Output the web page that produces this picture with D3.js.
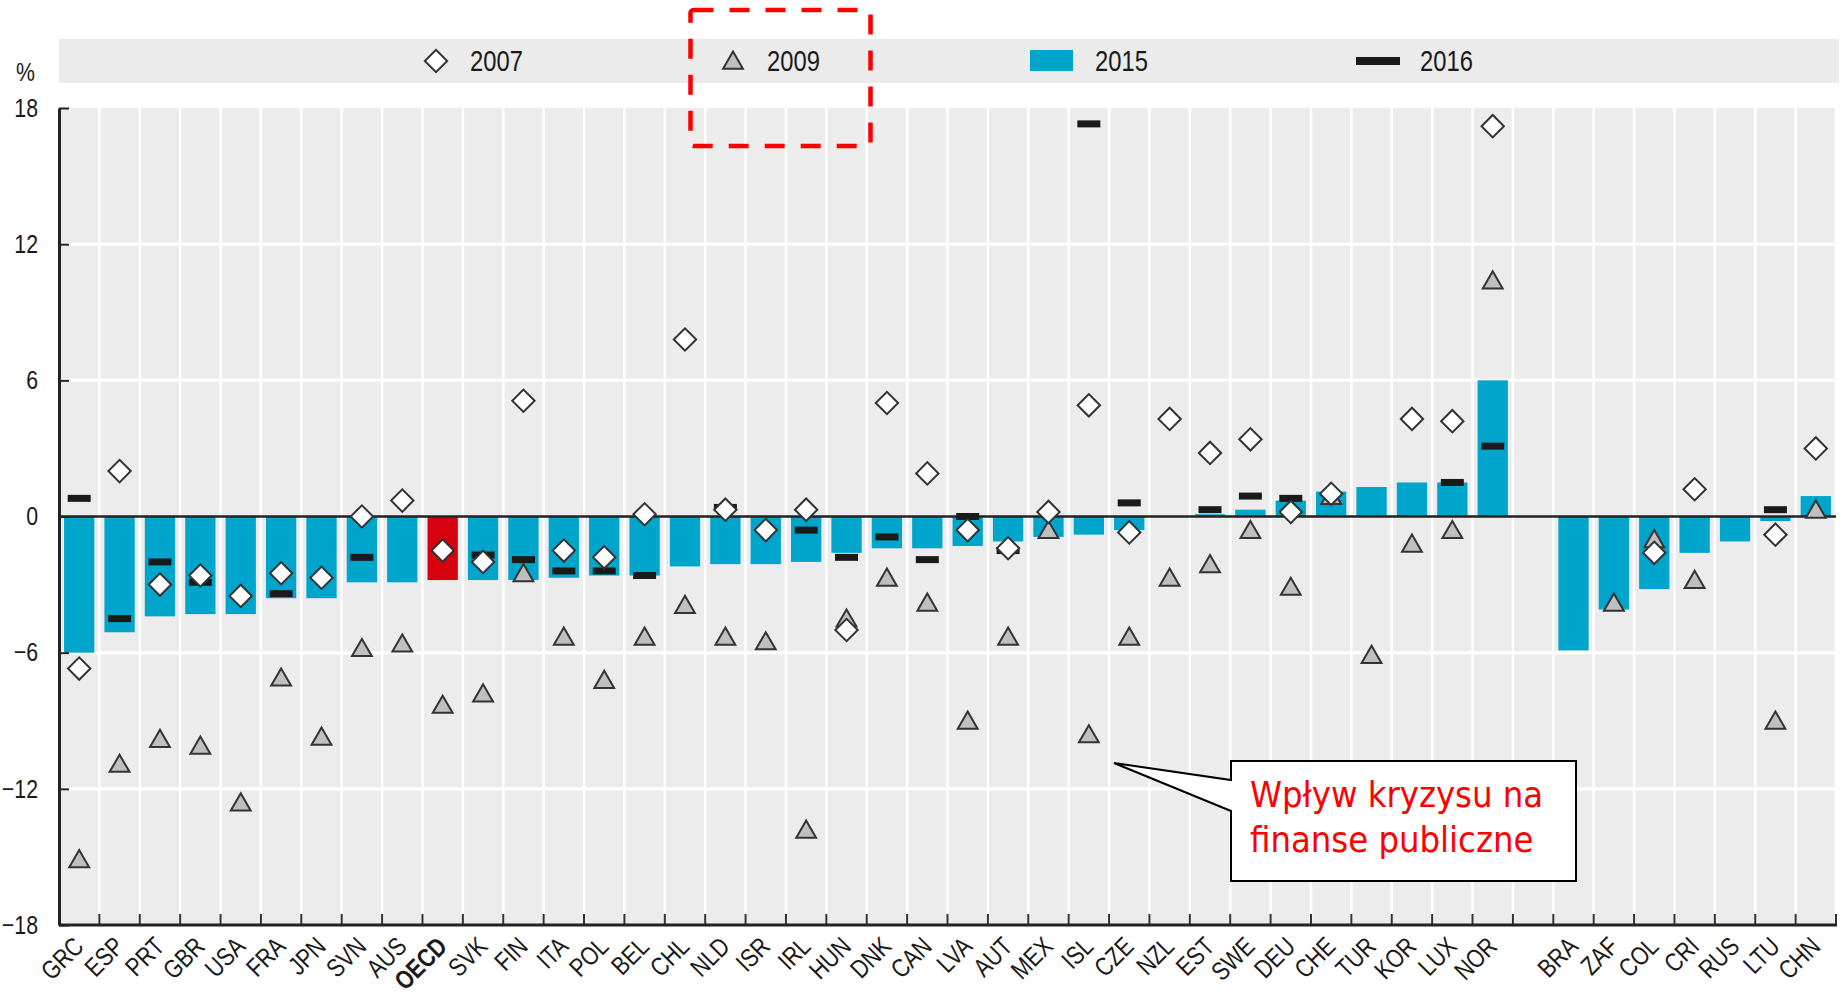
<!DOCTYPE html>
<html>
<head>
<meta charset="utf-8">
<script src="https://cdn.jsdelivr.net/npm/d3@7"></script>
<style>
  body { margin: 0; background: #fff; }
  svg text { font-family: 'Liberation Sans', Arial, sans-serif; fill: #1a1a1a; }
</style>
</head>
<body>
<div id="chart"></div>
<script>
// categories ("" = empty slot between OECD and partner countries)
var countries = ["GRC","ESP","PRT","GBR","USA","FRA","JPN","SVN","AUS","OECD","SVK","FIN","ITA","POL","BEL","CHL","NLD","ISR","IRL","HUN","DNK","CAN","LVA","AUT","MEX","ISL","CZE","NZL","EST","SWE","DEU","CHE","TUR","KOR","LUX","NOR","","BRA","ZAF","COL","CRI","RUS","LTU","CHN"];

// general government balance, % of GDP
var bal2015 = [-6.0,-5.1,-4.4,-4.3,-4.3,-3.6,-3.6,-2.9,-2.9,-2.8,-2.8,-2.8,-2.7,-2.6,-2.6,-2.2,-2.1,-2.1,-2.0,-1.6,-1.4,-1.4,-1.3,-1.1,-0.9,-0.8,-0.6,0.0,0.1,0.3,0.7,1.1,1.3,1.5,1.5,6.0,null,-5.9,-4.1,-3.2,-1.6,-1.1,-0.2,0.9];
var bal2007 = [-6.7,2.0,-3.0,-2.6,-3.5,-2.5,-2.7,0.0,0.7,-1.5,-2.0,5.1,-1.5,-1.8,0.1,7.8,0.3,-0.6,0.3,-5.0,5.0,1.9,-0.6,-1.4,0.2,4.9,-0.7,4.3,2.8,3.4,0.2,1.0,null,4.3,4.2,17.2,null,null,null,-1.6,1.2,null,-0.8,3.0];
var bal2009 = [-15.2,-11.0,-9.9,-10.2,-12.7,-7.2,-9.8,-5.9,-5.7,-8.4,-7.9,-2.6,-5.4,-7.3,-5.4,-4.0,-5.4,-5.6,-13.9,-4.6,-2.8,-3.9,-9.1,-5.4,-0.7,-9.7,-5.4,-2.8,-2.2,-0.7,-3.2,0.8,-6.2,-1.3,-0.7,10.3,null,null,-3.9,-1.1,-2.9,null,-9.1,0.2];
var bal2016 = [0.8,-4.5,-2.0,-2.9,null,-3.4,null,-1.8,null,null,-1.7,-1.9,-2.4,-2.4,-2.6,null,0.4,null,-0.6,-1.8,-0.9,-1.9,0.0,-1.5,null,17.3,0.6,null,0.3,0.9,0.8,null,null,null,1.5,3.1,null,null,null,null,null,null,0.3,null];

var yTicks = [18, 12, 6, 0, -6, -12, -18];
var legendLabels = ["2007", "2009", "2015", "2016"];
var calloutLines = ["Wpływ kryzysu na", "finanse publiczne"];

var W = 1847, H = 994;
var margin = { top: 108, right: 11, bottom: 69, left: 59 };
var plotW = W - margin.left - margin.right,
    plotH = H - margin.top - margin.bottom;

var blue = "#00a5cb", red = "#d7000f", bg = "#ececec";
var NARROW = 0.82; // squeeze Liberation Sans to an Arial Narrow look

// squeeze text horizontally, keeping its anchor point
function narrow(sel, k) {
  sel.each(function() {
    var t = d3.select(this);
    var x0 = +t.attr("x") || 0;
    var tr = t.attr("transform") || "";
    t.attr("x", x0 / k).attr("transform", (tr + " scale(" + k + ",1)").trim());
  });
}

var svg = d3.select("#chart").append("svg")
  .attr("width", W)
  .attr("height", H);

// SCALES
var x = d3.scaleBand()
  .domain(countries)
  .range([margin.left, margin.left + plotW])
  .paddingInner(0.25)
  .paddingOuter(0.125);
var step = x.step();

var y = d3.scaleLinear()
  .domain([-18, 18])
  .range([margin.top + plotH, margin.top]);

// legend band
svg.append("rect")
  .attr("x", margin.left).attr("y", 39)
  .attr("width", 1780).attr("height", 44)
  .attr("fill", "#ebebeb");

// plot background
svg.append("rect")
  .attr("x", margin.left).attr("y", margin.top)
  .attr("width", plotW).attr("height", plotH)
  .attr("fill", bg);

// grid lines
svg.append("g").selectAll("line")
  .data(yTicks.filter(function(d) { return d !== 0 && Math.abs(d) !== 18; }))
  .enter().append("line")
  .attr("x1", margin.left).attr("x2", margin.left + plotW)
  .attr("y1", function(d) { return y(d); }).attr("y2", function(d) { return y(d); })
  .attr("stroke", "#fff").attr("stroke-width", 3);

var bounds = countries.slice(1).map(function(c) { return x(c) - step * 0.125; });
bounds.push(margin.left + plotW);

svg.append("g").selectAll("line")
  .data(bounds)
  .enter().append("line")
  .attr("x1", function(d) { return d; }).attr("x2", function(d) { return d; })
  .attr("y1", margin.top).attr("y2", margin.top + plotH)
  .attr("stroke", "#fff").attr("stroke-width", 2.5);

// bars (2015)
var rows = countries.map(function(c, i) {
  return { c: c, v07: bal2007[i], v09: bal2009[i], v15: bal2015[i], v16: bal2016[i] };
});

svg.append("g").selectAll("rect")
  .data(rows.filter(function(d) { return d.v15 !== null; }))
  .enter().append("rect")
  .attr("x", function(d) { return x(d.c); })
  .attr("width", x.bandwidth())
  .attr("y", function(d) { return y(Math.max(0, d.v15)); })
  .attr("height", function(d) { return Math.abs(y(d.v15) - y(0)); })
  .attr("fill", function(d) { return d.c === "OECD" ? red : blue; });

// bottom ticks at slot boundaries
svg.append("g").selectAll("line")
  .data(bounds)
  .enter().append("line")
  .attr("x1", function(d) { return d; }).attr("x2", function(d) { return d; })
  .attr("y1", margin.top + plotH).attr("y2", margin.top + plotH - 11)
  .attr("stroke", "#333").attr("stroke-width", 2);

// zero line
svg.append("line")
  .attr("x1", margin.left).attr("x2", margin.left + plotW)
  .attr("y1", y(0)).attr("y2", y(0))
  .attr("stroke", "#222").attr("stroke-width", 2.5);

// bottom axis line
svg.append("line")
  .attr("x1", margin.left).attr("x2", margin.left + plotW + 1)
  .attr("y1", margin.top + plotH).attr("y2", margin.top + plotH)
  .attr("stroke", "#222").attr("stroke-width", 3);

// Y axis
var yAxis = d3.axisLeft(y)
  .tickValues(yTicks)
  .tickSizeInner(-10)
  .tickSizeOuter(0)
  .tickPadding(21);

var gY = svg.append("g")
  .attr("transform", "translate(" + margin.left + ",0)")
  .call(yAxis);
gY.select(".domain").attr("stroke", "#222").attr("stroke-width", 3);
gY.selectAll(".tick line").attr("stroke", "#222").attr("stroke-width", 2);
gY.selectAll(".tick text")
  .style("font-size", "26px")
  .attr("fill", "#1a1a1a")
  .call(narrow, NARROW);

svg.append("text")
  .attr("x", 16).attr("y", 81)
  .style("font-size", "26px")
  .text("%")
  .call(narrow, NARROW);

// X axis labels
var xAxis = d3.axisBottom(x).tickSize(0).tickPadding(0)
  .tickFormat(function(d) { return d; });
var gX = svg.append("g")
  .attr("transform", "translate(0," + (margin.top + plotH) + ")")
  .call(xAxis);
gX.select(".domain").remove();
gX.selectAll(".tick text")
  .attr("y", 0).attr("dy", 0)
  .attr("text-anchor", "end")
  .attr("transform", "translate(6,23) rotate(-45)")
  .style("font-size", "26px")
  .style("font-weight", function(d) { return d === "OECD" ? "bold" : "normal"; })
  .attr("fill", "#1a1a1a")
  .call(narrow, NARROW);

// markers
var triSym = d3.symbol().type(d3.symbolTriangle).size(170);
var sqSym = d3.symbol().type(d3.symbolSquare).size(250);

svg.append("g").selectAll("path")
  .data(rows.filter(function(d) { return d.v09 !== null; }))
  .enter().append("path")
  .attr("d", triSym)
  .attr("transform", function(d) { return "translate(" + (x(d.c) + x.bandwidth() / 2) + "," + y(d.v09) + ")"; })
  .attr("fill", "#bfbfbf").attr("stroke", "#333").attr("stroke-width", 2);

svg.append("g").selectAll("rect")
  .data(rows.filter(function(d) { return d.v16 !== null; }))
  .enter().append("rect")
  .attr("x", function(d) { return x(d.c) + x.bandwidth() / 2 - 11.5; })
  .attr("y", function(d) { return y(d.v16) - 3.5; })
  .attr("width", 23).attr("height", 7)
  .attr("fill", "#1a1a1a");

svg.append("g").selectAll("path")
  .data(rows.filter(function(d) { return d.v07 !== null; }))
  .enter().append("path")
  .attr("d", sqSym)
  .attr("transform", function(d) { return "translate(" + (x(d.c) + x.bandwidth() / 2) + "," + y(d.v07) + ") rotate(45)"; })
  .attr("fill", "#fff").attr("stroke", "#333").attr("stroke-width", 2);

// legend
var lg = svg.append("g");
lg.append("path").attr("d", sqSym)
  .attr("transform", "translate(436,61) rotate(45)")
  .attr("fill", "#fff").attr("stroke", "#333").attr("stroke-width", 2);
lg.append("path").attr("d", triSym)
  .attr("transform", "translate(733,63)")
  .attr("fill", "#bfbfbf").attr("stroke", "#333").attr("stroke-width", 2);
lg.append("rect").attr("x", 1030).attr("y", 50).attr("width", 43).attr("height", 21)
  .attr("fill", blue);
lg.append("rect").attr("x", 1356).attr("y", 57).attr("width", 44).attr("height", 8)
  .attr("fill", "#1a1a1a");

lg.selectAll(".ltext")
  .data(legendLabels)
  .enter().append("text")
  .attr("class", "ltext")
  .attr("x", function(d, i) { return [470, 767, 1095, 1420][i]; })
  .attr("y", 61)
  .attr("dy", "0.36em")
  .style("font-size", "29px")
  .text(function(d) { return d; })
  .call(narrow, NARROW);

// highlight around 2009 legend item
svg.append("rect")
  .attr("x", 690.5).attr("y", 10)
  .attr("width", 180).attr("height", 136)
  .attr("rx", 3)
  .attr("fill", "none")
  .attr("stroke", "#ff0000")
  .attr("stroke-width", 4.5)
  .attr("stroke-dasharray", "20,16");

// callout
svg.append("path")
  .attr("d", "M1231,761H1576V881H1231V811L1114,763L1231,780Z")
  .attr("fill", "#fff")
  .attr("stroke", "#000")
  .attr("stroke-width", 2);

svg.append("g").selectAll("text")
  .data(calloutLines)
  .enter().append("text")
  .attr("x", 1250)
  .attr("y", function(d, i) { return 807 + i * 45; })
  .style("font-family", "'DejaVu Sans Condensed', 'DejaVu Sans', sans-serif")
  .style("font-stretch", "condensed")
  .style("font-size", "36px")
  .style("fill", "#ff0000")
  .text(function(d) { return d; });
</script>
</body>
</html>
